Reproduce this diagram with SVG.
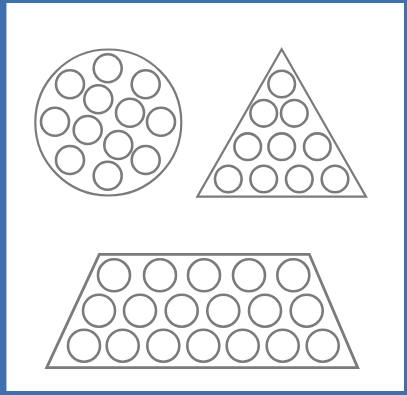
<svg xmlns="http://www.w3.org/2000/svg" width="407" height="395" viewBox="0 0 407 395">
<style>
.sh{fill:none;stroke:#7b7b7b;stroke-width:2.2;stroke-linejoin:miter}
.c{fill:none;stroke:#7b7b7b;stroke-width:2.6}
</style>
<rect x="0" y="0" width="407" height="395" fill="#3f6fad"/>
<rect x="6" y="3" width="398" height="388" fill="#ffffff"/>
<rect x="6" y="3" width="1" height="388" fill="#a9bfdd"/>
<g id="circle-shape">
<circle class="sh" cx="108.3" cy="122.5" r="73"/>
<circle class="c" cx="107.7" cy="68.3" r="14"/>
<circle class="c" cx="70" cy="84.3" r="14"/>
<circle class="c" cx="145.7" cy="84.3" r="14"/>
<circle class="c" cx="98.3" cy="99.3" r="14"/>
<circle class="c" cx="130" cy="112.7" r="14"/>
<circle class="c" cx="55" cy="121.7" r="14"/>
<circle class="c" cx="161" cy="121.7" r="14"/>
<circle class="c" cx="87.7" cy="130" r="14"/>
<circle class="c" cx="118.3" cy="145" r="14"/>
<circle class="c" cx="70" cy="160" r="14"/>
<circle class="c" cx="145.7" cy="160" r="14"/>
<circle class="c" cx="107.7" cy="175.7" r="14"/>
</g>
<g id="triangle-shape">
<polygon class="sh" points="281.7,49.3 366,196.7 197.3,196.7"/>
<circle class="c" cx="281.7" cy="84" r="13.3"/>
<circle class="c" cx="263.7" cy="113.3" r="13.3"/>
<circle class="c" cx="294.3" cy="113.3" r="13.3"/>
<circle class="c" cx="247.7" cy="146.7" r="13.3"/>
<circle class="c" cx="281.7" cy="146.7" r="13.3"/>
<circle class="c" cx="317.3" cy="146.7" r="13.3"/>
<circle class="c" cx="228.3" cy="179" r="13.3"/>
<circle class="c" cx="263.7" cy="179" r="13.3"/>
<circle class="c" cx="299.3" cy="179" r="13.3"/>
<circle class="c" cx="335" cy="179" r="13.3"/>
</g>
<g id="trapezoid-shape">
<polygon class="sh" style="stroke-width:2.8" points="99.3,254.3 309.3,254.3 357.7,367.7 46.7,367.7"/>
<circle class="c" cx="114" cy="275.3" r="16"/>
<circle class="c" cx="160" cy="275.3" r="16"/>
<circle class="c" cx="204" cy="275.3" r="16"/>
<circle class="c" cx="249" cy="275.3" r="16"/>
<circle class="c" cx="293.3" cy="275.3" r="16"/>
<circle class="c" cx="99" cy="310.7" r="16"/>
<circle class="c" cx="140" cy="310.7" r="16"/>
<circle class="c" cx="181.7" cy="310.7" r="16"/>
<circle class="c" cx="223.3" cy="310.7" r="16"/>
<circle class="c" cx="265" cy="310.7" r="16"/>
<circle class="c" cx="306.7" cy="310.7" r="16"/>
<circle class="c" cx="84" cy="345.7" r="16"/>
<circle class="c" cx="122.7" cy="345.7" r="16"/>
<circle class="c" cx="163.3" cy="345.7" r="16"/>
<circle class="c" cx="203.3" cy="345.7" r="16"/>
<circle class="c" cx="242.7" cy="345.7" r="16"/>
<circle class="c" cx="282.7" cy="345.7" r="16"/>
<circle class="c" cx="322.7" cy="345.7" r="16"/>
</g>
</svg>
